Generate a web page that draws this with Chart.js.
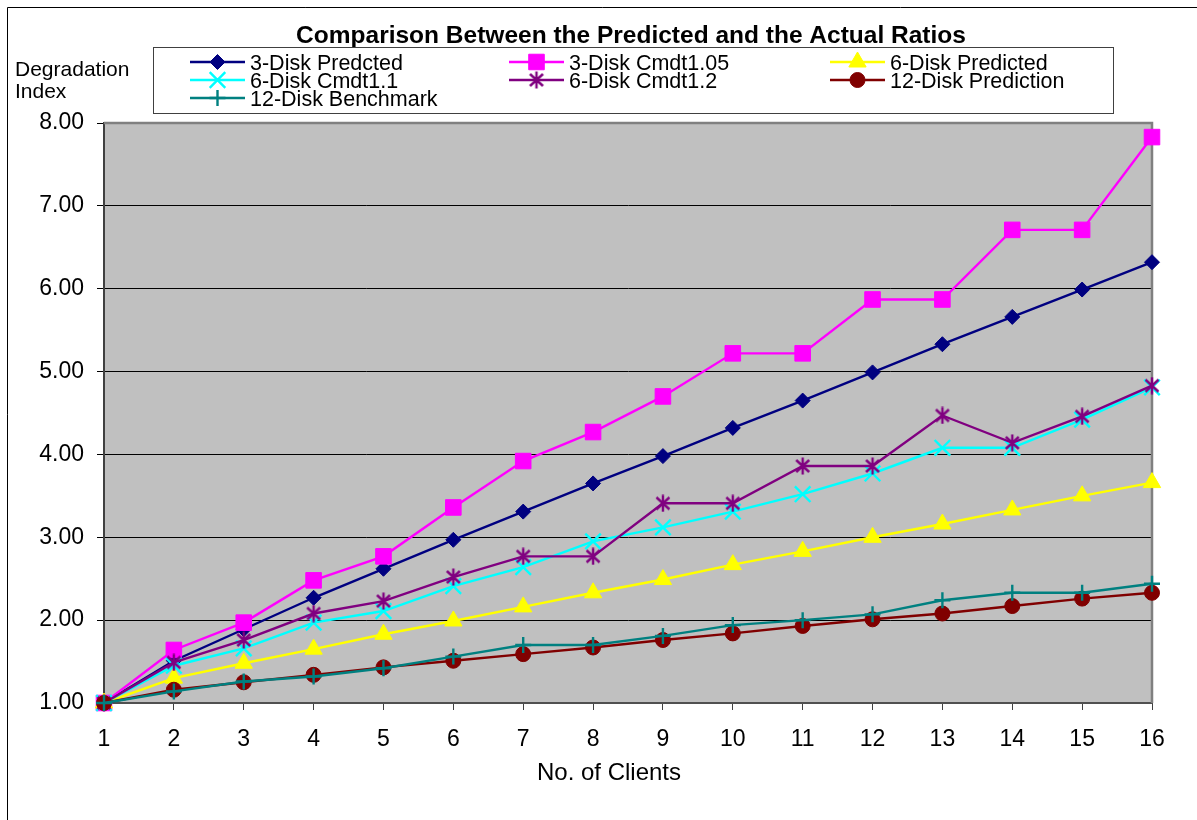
<!DOCTYPE html>
<html>
<head>
<meta charset="utf-8">
<title>Degradation Index</title>
<script src="https://cdn.jsdelivr.net/npm/chart.js@4/dist/chart.umd.min.js"></script>
<style>
  html, body { margin: 0; padding: 0; background: #fff; }
  #wrap { width: 1197px; height: 820px; }
</style>
</head>
<body>
<div id="wrap"><canvas id="chart" width="1197" height="820"></canvas></div>
<script>
// Number of clients (x categories)
const clients = ['1','2','3','4','5','6','7','8','9','10','11','12','13','14','15','16'];

// Degradation index per series
const threeDiskPredicted   = [1.00, 1.51, 1.89, 2.27, 2.62, 2.97, 3.31, 3.65, 3.98, 4.32, 4.65, 4.99, 5.33, 5.66, 5.99, 6.32];
const threeDiskCmdt105     = [1.00, 1.64, 1.97, 2.48, 2.77, 3.36, 3.92, 4.27, 4.70, 5.22, 5.22, 5.87, 5.87, 6.71, 6.71, 7.83];
const sixDiskPredicted     = [1.00, 1.30, 1.48, 1.65, 1.83, 1.99, 2.16, 2.33, 2.49, 2.67, 2.83, 3.00, 3.16, 3.33, 3.50, 3.66];
const sixDiskCmdt11        = [1.00, 1.45, 1.66, 1.97, 2.11, 2.41, 2.64, 2.95, 3.12, 3.31, 3.52, 3.77, 4.08, 4.08, 4.42, 4.81];
const sixDiskCmdt12        = [1.00, 1.49, 1.76, 2.08, 2.23, 2.52, 2.77, 2.77, 3.41, 3.41, 3.86, 3.86, 4.47, 4.14, 4.46, 4.83];
const twelveDiskPrediction = [1.00, 1.16, 1.25, 1.34, 1.43, 1.51, 1.59, 1.67, 1.76, 1.84, 1.93, 2.01, 2.08, 2.17, 2.26, 2.33];
const twelveDiskBenchmark  = [1.00, 1.14, 1.26, 1.32, 1.42, 1.56, 1.70, 1.70, 1.81, 1.94, 2.00, 2.07, 2.24, 2.33, 2.33, 2.44];

// Value axis ticks
const yTicks = [1, 2, 3, 4, 5, 6, 7, 8];

const FONT = "'Liberation Sans', Arial, sans-serif";

// Asterisk marker (vertical bar + X) drawn once to an offscreen canvas
function makeAsterisk(color) {
  const c = document.createElement('canvas');
  c.width = 18; c.height = 18;
  const g = c.getContext('2d');
  g.strokeStyle = color;
  g.lineWidth = 2.4;
  g.lineCap = 'butt';
  g.beginPath();
  g.moveTo(9, 0.5); g.lineTo(9, 17.5);
  g.moveTo(2.5, 3); g.lineTo(15.5, 15);
  g.moveTo(15.5, 3); g.lineTo(2.5, 15);
  g.stroke();
  return c;
}

function series(label, data, color, style, radius, bw, fill) {
  return {
    label, data,
    borderColor: color,
    borderWidth: 2.4,
    backgroundColor: color,
    pointStyle: style,
    pointRadius: radius,
    pointBorderWidth: bw,
    pointBackgroundColor: fill === false ? 'rgba(0,0,0,0)' : color,
    pointBorderColor: color,
    tension: 0,
    clip: false
  };
}

const datasets = [
  series('3-Disk Predcted',    threeDiskPredicted,   '#000080', 'rectRot',  7.5, 1),
  series('3-Disk Cmdt1.05',    threeDiskCmdt105,     '#FF00FF', 'rect',     11,  1),
  series('6-Disk Predicted',   sixDiskPredicted,     '#FFFF00', 'triangle', 10,  1),
  series('6-Disk Cmdt1.1',     sixDiskCmdt11,        '#00FFFF', 'crossRot', 11,  2.4, false),
  series('6-Disk Cmdt1.2',     sixDiskCmdt12,        '#800080', makeAsterisk('#800080'), 8, 2.4, false),
  series('12-Disk Prediction', twelveDiskPrediction, '#800000', 'circle',   7.5, 1),
  series('12-Disk Benchmark',  twelveDiskBenchmark,  '#008080', 'cross',    8,   2.4, false)
];
// later series sit on top of earlier ones
datasets.forEach((d, i) => { d.order = datasets.length - i; });

// marker glyphs for the legend keys
function drawMarker(ctx, ds, x, y) {
  const r = ds.pointRadius;
  const st = ds.pointStyle;
  ctx.save();
  ctx.fillStyle = ds.pointBackgroundColor;
  ctx.strokeStyle = ds.pointBorderColor;
  ctx.lineWidth = ds.pointBorderWidth;
  ctx.beginPath();
  if (st instanceof HTMLCanvasElement) {
    ctx.drawImage(st, x - st.width / 2, y - st.height / 2);
  } else if (st === 'rectRot') {
    ctx.moveTo(x, y - r); ctx.lineTo(x + r, y); ctx.lineTo(x, y + r); ctx.lineTo(x - r, y);
    ctx.closePath(); ctx.fill(); ctx.stroke();
  } else if (st === 'rect') {
    const s = Math.SQRT1_2 * r;
    ctx.rect(x - s, y - s, 2 * s, 2 * s); ctx.fill(); ctx.stroke();
  } else if (st === 'triangle') {
    ctx.moveTo(x, y - r);
    ctx.lineTo(x + r * Math.cos(Math.PI / 6), y + r / 2);
    ctx.lineTo(x - r * Math.cos(Math.PI / 6), y + r / 2);
    ctx.closePath(); ctx.fill(); ctx.stroke();
  } else if (st === 'circle') {
    ctx.arc(x, y, r, 0, Math.PI * 2); ctx.fill(); ctx.stroke();
  } else if (st === 'crossRot') {
    const o = Math.SQRT1_2 * r;
    ctx.moveTo(x - o, y - o); ctx.lineTo(x + o, y + o);
    ctx.moveTo(x + o, y - o); ctx.lineTo(x - o, y + o);
    ctx.stroke();
  } else if (st === 'cross') {
    ctx.moveTo(x, y - r); ctx.lineTo(x, y + r);
    ctx.moveTo(x - r, y); ctx.lineTo(x + r, y);
    ctx.stroke();
  }
  ctx.restore();
}

const decorations = {
  id: 'decorations',
  beforeDraw(chart) {
    const { ctx, chartArea: a } = chart;
    ctx.save();
    ctx.fillStyle = '#ffffff';
    ctx.fillRect(0, 0, chart.width, chart.height);
    ctx.fillStyle = '#C0C0C0';
    ctx.fillRect(a.left, a.top, a.right - a.left, a.bottom - a.top);
    ctx.restore();
  },
  beforeDatasetsDraw(chart) {
    const { ctx, chartArea: a } = chart;
    ctx.save();
    ctx.strokeStyle = '#808080';
    ctx.lineWidth = 2.5;
    ctx.beginPath();
    ctx.moveTo(a.left, a.top);
    ctx.lineTo(a.right, a.top);
    ctx.lineTo(a.right, a.bottom);
    ctx.stroke();
    ctx.restore();
  },
  afterDraw(chart) {
    const ctx = chart.ctx;
    ctx.save();

    // outer frame
    ctx.strokeStyle = '#000';
    ctx.lineWidth = 1;
    ctx.beginPath();
    ctx.moveTo(7.5, chart.height + 2);
    ctx.lineTo(7.5, 7.5);
    ctx.lineTo(chart.width + 2, 7.5);
    ctx.stroke();

    // chart title
    ctx.fillStyle = '#000';
    ctx.textBaseline = 'alphabetic';
    ctx.textAlign = 'center';
    ctx.font = 'bold 24.5px ' + FONT;
    ctx.fillText('Comparison Between the Predicted and the Actual Ratios', 631, 43);

    // value axis caption
    ctx.textAlign = 'left';
    ctx.font = '21px ' + FONT;
    ctx.fillText('Degradation', 15, 76);
    ctx.fillText('Index', 15, 98);

    // category axis caption
    ctx.textAlign = 'center';
    ctx.font = '24px ' + FONT;
    ctx.fillText('No. of Clients', 609, 780);

    // legend
    ctx.fillStyle = '#fff';
    ctx.fillRect(153.5, 47.5, 960, 66);
    ctx.strokeStyle = '#404040';
    ctx.lineWidth = 1;
    ctx.strokeRect(153.5, 47.5, 960, 66);

    const cols = [190, 509, 830];
    const rows = [70, 88, 106];
    ctx.font = '21.5px ' + FONT;
    ctx.textAlign = 'left';
    chart.data.datasets.forEach((ds, i) => {
      const x0 = cols[i % 3];
      const base = rows[Math.floor(i / 3)];
      const ym = base - 8;
      ctx.strokeStyle = ds.borderColor;
      ctx.lineWidth = ds.borderWidth;
      ctx.beginPath();
      ctx.moveTo(x0, ym);
      ctx.lineTo(x0 + 55, ym);
      ctx.stroke();
      drawMarker(ctx, ds, x0 + 27.5, ym);
      ctx.fillStyle = '#000';
      ctx.fillText(ds.label, x0 + 60, base);
    });
    ctx.restore();
  }
};

new Chart(document.getElementById('chart'), {
  type: 'line',
  data: { labels: clients, datasets },
  options: {
    responsive: false,
    animation: false,
    events: [],
    layout: { padding: { top: 123, right: 45, left: 0, bottom: 0 } },
    plugins: {
      legend: { display: false },
      title: { display: false },
      tooltip: { enabled: false }
    },
    scales: {
      x: {
        type: 'category',
        offset: false,
        afterFit(scale) { scale.height = 117; },
        grid: {
          drawOnChartArea: false,
          drawTicks: true,
          tickLength: 7,
          color: '#404040',
          lineWidth: 1
        },
        border: { display: true, color: '#505050', width: 2 },
        ticks: {
          autoSkip: false,
          maxRotation: 0,
          padding: 16,
          color: '#000',
          font: { family: FONT, size: 23 }
        }
      },
      y: {
        min: yTicks[0],
        max: yTicks[yTicks.length - 1],
        afterFit(scale) { scale.width = 104; },
        afterBuildTicks(scale) { scale.ticks = yTicks.map(v => ({ value: v })); },
        grid: {
          color: '#000',
          lineWidth: 1,
          drawTicks: true,
          tickLength: 7
        },
        border: { display: true, color: '#404040', width: 2 },
        ticks: {
          padding: 13,
          color: '#000',
          font: { family: FONT, size: 23 },
          callback: v => Number(v).toFixed(2)
        }
      }
    }
  },
  plugins: [decorations]
});
</script>
</body>
</html>
